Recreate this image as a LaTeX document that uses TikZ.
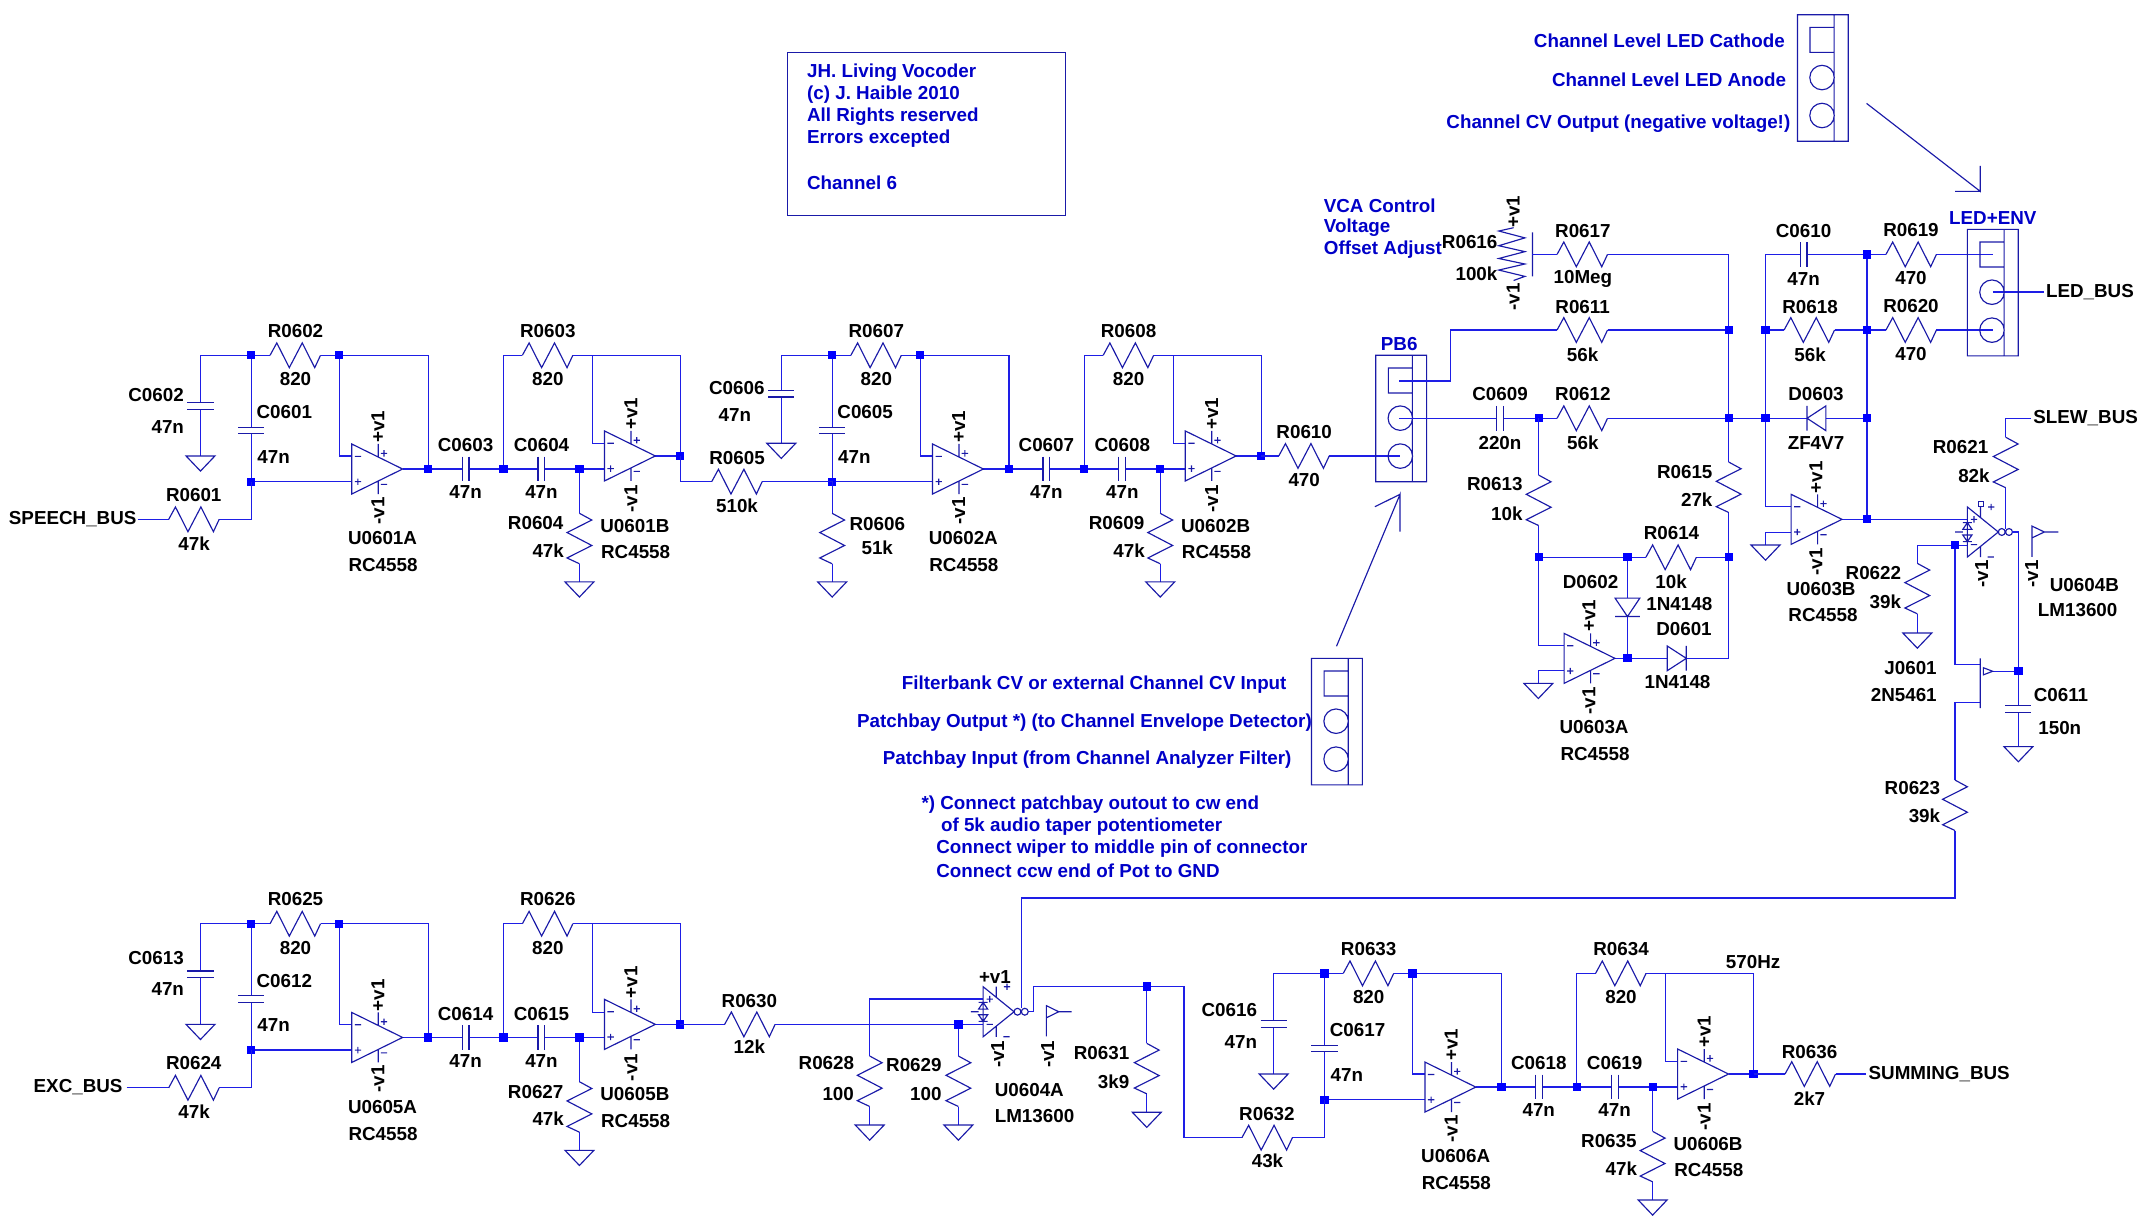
\documentclass[tikz,border=0pt]{standalone}
\usepackage{fontspec}
\setmainfont{Liberation Sans}
\definecolor{wirec}{HTML}{1E1EE6}
\definecolor{compc}{HTML}{1A1AA8}
\definecolor{txtb}{HTML}{0000C8}
\newcounter{lab}
\tikzset{
  wire/.style={draw=wirec,line width=0.46pt,line cap=butt,line join=miter},
  comp/.style={draw=compc,line width=0.42pt,line join=miter},
  junc/.style={fill=blue,draw=none},
  lbl/.style={inner sep=0pt,outer sep=0pt,font=\bfseries\fontsize{6.84}{8}\selectfont,text=black},
  note/.style={lbl,text=txtb,yshift=-0.4pt},
}
\newcommand{\T}[3]{\stepcounter{lab}\node[lbl] (t\arabic{lab}) at (#1,#2) {#3};}
\newcommand{\TL}[3]{\stepcounter{lab}\node[lbl,anchor=west] (t\arabic{lab}) at (#1,#2) {#3};}
\newcommand{\TR}[3]{\stepcounter{lab}\node[lbl,anchor=east] (t\arabic{lab}) at (#1,#2) {#3};}
\newcommand{\TV}[3]{\stepcounter{lab}\node[lbl,rotate=90] (t\arabic{lab}) at (#1,#2) {#3};}
\newcommand{\NL}[3]{\stepcounter{lab}\node[note,anchor=west] (t\arabic{lab}) at (#1,#2) {#3};}
\newcommand{\NC}[3]{\stepcounter{lab}\node[note] (t\arabic{lab}) at (#1,#2) {#3};}
\newcommand{\NR}[3]{\stepcounter{lab}\node[note,anchor=east] (t\arabic{lab}) at (#1,#2) {#3};}
\newcommand{\J}[2]{\fill[junc,shift={(#1,#2)}] (-3,-3) rectangle (3,3);}
\newcommand{\resh}[2]{\draw[comp,shift={(#1,#2)}] (0,0)--(4.9,-9)--(14,9)--(23.4,-9)--(32.5,9)--(36.7,0);}
\newcommand{\resv}[2]{\draw[comp,shift={(#1,#2)}] (0,0)--(9,4.9)--(-9,14)--(9,23.4)--(-9,32.5)--(0,36.7);}
\newcommand{\caph}[2]{\draw[comp,shift={(#1,#2)}] (-2.5,-9)--(-2.5,9) (2.5,-9)--(2.5,9);}
\newcommand{\capv}[2]{\draw[comp,shift={(#1,#2)}] (-9.5,0)--(9.5,0) (-9.5,4.8)--(9.5,4.8);}
\newcommand{\gnd}[2]{\draw[comp,shift={(#1,#2)}] (-10.5,0)--(10.5,0)--(0,11)--cycle;}
\newcommand{\opamp}[2]{\draw[comp,shift={(#1,#2)}] (0,-18.2)--(0,18.2)--(37,0)--cycle
  (19.3,-9)--(19.3,-18.2) (19.3,9)--(19.3,18.2)
  (2.2,-9.2)--(6.8,-9.2) (2.2,9.2)--(6.8,9.2) (4.5,6.9)--(4.5,11.5)
  (21.2,-11.4)--(25.8,-11.4) (23.5,-13.7)--(23.5,-9.1) (21.2,11.2)--(25.8,11.2);}
\newcommand{\ota}[2]{\draw[comp,shift={(#1,#2)}] (0,-18.2)--(0,18.2)--(22.5,0)--cycle
  (9.5,-10.5)--(9.5,-18.2) (9.5,10.5)--(9.5,18.2)
  (2.5,-9.2)--(7.1,-9.2) (4.8,-11.5)--(4.8,-6.9) (2.5,9.2)--(7.1,9.2)
  (15,-18.2)--(19.6,-18.2) (17.3,-20.5)--(17.3,-15.9) (14.7,18.2)--(19.3,18.2)
  (-3.3,-1.9)--(3.3,-1.9)--(0,-6.8)--cycle (-3.3,-6.8)--(3.3,-6.8)
  (-3.3,2.2)--(3.3,2.2)--(0,7)--cycle (-3.3,7)--(3.3,7)
  (-9,0)--(-3.2,0)
  (25,0) circle (2.5) (30.3,0) circle (2.5);}
\newcommand{\conn}[2]{\draw[comp,shift={(#1,#2)}] (0,0) rectangle (37,92)
  (26.7,0)--(26.7,92) (9.2,9.2) rectangle (26.7,27.4)
  (17.9,45.7) circle (8.9) (17.9,73.3) circle (8.9);}
\newcommand{\ua}{}\newcommand{\ub}{}
% left capacitor of a section: plate y, ground y, label y, value x, value y
\newcommand{\lca}{292.8}\newcommand{\lcg}{331.6}\newcommand{\lct}{287.3}\newcommand{\lcnx}{122}\newcommand{\lcny}{310.3}
% one two-stage filter section, drawn at its offset
\newcommand{\filt}[9]{\begin{scope}[shift={(#1,#2)}]
  \draw[wire] (145.8,\lcg)--(145.8,\lca+4.8) (145.8,\lca)--(145.8,258.4)--(196.4,258.4)
    (233.1,258.4)--(311.4,258.4)--(311.4,341.1)
    (292.8,341.1)--(336.1,341.1) (341.1,341.1)--(391.3,341.1) (396.3,341.1)--(439.6,341.1)
    (246.8,258.4)--(246.8,331.6)--(255.8,331.6)
    (182.8,258.4)--(182.8,310.7) (182.8,315.5)--(182.8,350.3)--(255.8,350.3)
    (366.2,341.1)--(366.2,258.4)--(379.9,258.4)
    (416.6,258.4)--(494.8,258.4)--(494.8,331.6)--(476.6,331.6)
    (430.8,258.4)--(430.8,322.7)--(439.6,322.7)
    (421.4,341.1)--(421.4,373.3) (421.4,410)--(421.4,423.2);
  \capv{145.8}{\lca}\capv{182.8}{310.7}\caph{338.6}{341.1}\caph{393.8}{341.1}
  \gnd{145.8}{\lcg}\gnd{421.4}{423.2}
  \resh{196.4}{258.4}\resh{379.9}{258.4}\resv{421.4}{373.3}
  \opamp{255.8}{341.1}\opamp{439.6}{331.6}
  \J{182.8}{258.4}\J{246.8}{258.4}\J{182.8}{350.3}\J{311.4}{341.1}\J{366.2}{341.1}\J{421.4}{341.1}\J{494.8}{331.6}
  \T{214.9}{240.7}{#3}\T{214.9}{275.9}{820}
  \T{113.5}{\lct}{#4}\T{\lcnx}{\lcny}{47n}
  \T{206.8}{299.9}{#5}\T{199}{332.1}{47n}
  \T{398.4}{240.7}{#6}\T{398.4}{275.9}{820}
  \T{338.6}{323.9}{#7}\T{338.6}{358}{47n}
  \T{393.8}{323.9}{#8}\T{393.8}{358}{47n}
  \T{389.6}{380.6}{#9}\T{398.7}{400.5}{47k}
  \T{278.2}{391.5}{\ua}\T{278.6}{411.2}{RC4558}
  \T{461.7}{382.5}{\ub}\T{462.3}{401.7}{RC4558}
  \TV{274.8}{310.3}{+v1}\TV{274.8}{371.4}{-v1}
  \TV{458.8}{301}{+v1}\TV{458.8}{362.9}{-v1}
\end{scope}}
\begin{document}
\begin{tikzpicture}[x=0.5pt,y=-0.5pt]
\useasboundingbox (0,0) rectangle (1568,889.3);
% filter sections
\renewcommand{\ua}{U0601A}\renewcommand{\ub}{U0601B}
\filt{0}{0}{R0602}{C0602}{C0601}{R0603}{C0603}{C0604}{R0604}
\renewcommand{\ua}{U0602A}\renewcommand{\ub}{U0602B}
\renewcommand{\lca}{283.9}\renewcommand{\lcg}{322.4}\renewcommand{\lct}{281.9}\renewcommand{\lcnx}{112}\renewcommand{\lcny}{301.8}
\filt{422.4}{0}{R0607}{C0606}{C0605}{R0608}{C0607}{C0608}{R0609}
\renewcommand{\ua}{U0605A}\renewcommand{\ub}{U0605B}
\renewcommand{\lca}{292.8}\renewcommand{\lcg}{331.6}\renewcommand{\lct}{283.3}\renewcommand{\lcnx}{122}\renewcommand{\lcny}{306}
\filt{0}{413.4}{R0625}{C0613}{C0612}{R0626}{C0614}{C0615}{R0627}
\renewcommand{\ua}{U0606A}\renewcommand{\ub}{U0606B}
\renewcommand{\lct}{285.3}\renewcommand{\lcny}{308}
\filt{780.5}{449.5}{R0633}{C0616}{C0617}{R0634}{C0618}{C0619}{R0635}
% inputs
\draw[wire] (100,377.7)--(122.7,377.7) (159.4,377.7)--(182.8,377.7)--(182.8,350.3);
\resh{122.7}{377.7}
\TL{6.5}{377.7}{SPEECH\_BUS}\T{140.9}{360}{R0601}\T{141.2}{395.2}{47k}
\draw[wire] (92,791.1)--(122.7,791.1) (159.4,791.1)--(182.8,791.1)--(182.8,763.7);
\resh{122.7}{791.1}
\TL{24.5}{790.4}{EXC\_BUS}\T{140.9}{773.4}{R0624}\T{141.2}{808.6}{47k}
% R0605 R0606
\draw[wire] (494.8,331.6)--(494.8,350.3)--(517.6,350.3) (554.3,350.3)--(605.2,350.3)--(605.2,373.3) (605.2,410)--(605.2,423.2);
\resh{517.6}{350.3}\resv{605.2}{373.3}\gnd{605.2}{423.2}
\T{536}{333.3}{R0605}\T{536}{367.5}{510k}\T{638}{381}{R0606}\T{638}{398.5}{51k}
% R0610, PB6
\draw[wire] (917.2,331.6)--(930,331.6) (966.7,331.6)--(1018,331.6);
\resh{930}{331.6}\T{948.5}{314}{R0610}\T{948.5}{349}{470}
\conn{1000.5}{258.4}\NC{1017.6}{249.7}{PB6}
\draw[wire] (1017.8,277)--(1055,277)--(1055,240)--(1132.4,240) (1169.1,240)--(1257.2,240);
\resh{1132.4}{240}
\draw[wire] (1017.8,304.2)--(1088.4,304.2) (1093.4,304.2)--(1132.4,304.2) (1169.1,304.2)--(1314.2,304.2);
\caph{1090.9}{304.2}\resh{1132.4}{304.2}\J{1119}{304.2}
\T{1151}{223}{R0611}\T{1151}{258}{56k}\T{1090.9}{286.8}{C0609}\T{1090.9}{322}{220n}\T{1151.2}{286.8}{R0612}\T{1151.2}{322}{56k}
% R0616 R0617
\draw[comp] (1100.8,165.6)--(1090,168)--(1109,173)--(1090,178.7)--(1109,183)--(1090,188)--(1109,192)--(1090,196.4)--(1109,201)--(1100.8,204)
  (1114.5,169)--(1114.5,201);
\draw[wire] (1114.5,185)--(1132.4,185) (1169.1,185)--(1257.2,185)--(1257.2,336) (1257.2,372.7)--(1257.2,478.8)--(1226.4,478.8);
\resh{1132.4}{185}\resv{1257.2}{336}
\TR{1089}{175.8}{R0616}\TR{1089}{198.8}{100k}\TV{1100.5}{154}{+v1}\TV{1100.5}{215.8}{-v1}
\T{1151.2}{167.8}{R0617}\T{1151.2}{202.9}{10Meg}
\NL{962.8}{148.6}{VCA Control}\NL{962.8}{164.6}{Voltage}\NL{962.8}{180.6}{Offset Adjust}
\TR{1245.4}{343.5}{R0615}\TR{1245.4}{363.6}{27k}
% R0613 R0614 U0603A
\draw[wire] (1119,304.2)--(1119,345.5) (1119,382.2)--(1119,469.6)--(1137.5,469.6)
  (1119,405.3)--(1197,405.3) (1233.7,405.3)--(1257.2,405.3)
  (1183.6,405.3)--(1183.6,435) (1183.6,448.4)--(1183.6,478.8)
  (1137.5,487.8)--(1118.8,487.8)--(1118.8,497)
  (1173.8,478.8)--(1212.5,478.8);
\resv{1119}{345.5}\resh{1197}{405.3}
\opamp{1137.5}{478.8}\gnd{1118.8}{497}
\draw[comp] (1174.6,435)--(1192.6,435)--(1183.6,448.4)--cycle (1174.6,448.4)--(1192.6,448.4);
\draw[comp] (1212.5,469.8)--(1212.5,487.8)--(1226.4,478.8)--cycle (1226.4,469.8)--(1226.4,487.8);
\J{1119}{405.3}\J{1183.6}{405.3}\J{1257.2}{405.3}\J{1183.6}{478.8}\J{1257.2}{240}\J{1257.2}{304.2}
\TR{1107.3}{352.3}{R0613}\TR{1107.3}{373.3}{10k}
\T{1215.6}{387.9}{R0614}\T{1215.3}{423}{10k}\T{1156.8}{423}{D0602}\T{1221.3}{439.3}{1N4148}
\T{1224.7}{457.7}{D0601}\T{1220}{496}{1N4148}
\TV{1155.5}{448}{+v1}\TV{1155.5}{509.6}{-v1}\T{1159.3}{529}{U0603A}\T{1160}{548.6}{RC4558}
% envelope section
\draw[wire] (1284,185)--(1284,368.5)--(1302.6,368.5) (1284,396.4)--(1284,387)--(1302.6,387)
  (1284,185)--(1309.2,185) (1314.2,185)--(1371.6,185) (1408.3,185)--(1449.3,185)
  (1284,240)--(1297.5,240) (1334.2,240)--(1371.6,240) (1408.3,240)--(1449.3,240)
  (1327.9,304.2)--(1357.8,304.2)
  (1357.8,185)--(1357.8,377.7)
  (1339.6,377.7)--(1430.8,377.7)
  (1449.3,212.4)--(1486.6,212.4);
\caph{1311.7}{185}\resh{1297.5}{240}\resh{1371.6}{185}\resh{1371.6}{240}
\draw[comp] (1314.2,295.2)--(1314.2,313.2) (1327.9,295.2)--(1327.9,313.2)--(1314.2,304.2)--cycle;
\opamp{1302.6}{377.7}\gnd{1284}{396.4}
\conn{1430.8}{166.8}
\J{1284}{240}\J{1284}{304.2}\J{1357.8}{185}\J{1357.8}{240}\J{1357.8}{304.2}\J{1357.8}{377.7}
\T{1311.7}{167.8}{C0610}\T{1311.7}{202.9}{47n}\T{1316.4}{223}{R0618}\T{1316.4}{258}{56k}
\T{1320.7}{286.8}{D0603}\T{1320.7}{322}{ZF4V7}
\T{1389.8}{167.3}{R0619}\T{1389.8}{202.4}{470}\T{1389.8}{222.6}{R0620}\T{1389.8}{257.7}{470}
\NC{1449.3}{157.6}{LED+ENV}\TL{1488}{212.4}{LED\_BUS}
\TV{1320.7}{347.1}{+v1}\TV{1320.7}{408.5}{-v1}\T{1324.4}{428.4}{U0603B}\T{1325.8}{447.3}{RC4558}
% LM13600 B
\ota{1430.8}{386.9}
\draw[comp] (1438.6,364.8) rectangle (1442.4,368.6);
\draw[wire] (1458.7,384.4)--(1458.7,355) (1458.7,318)--(1458.7,304.2)--(1477,304.2)
  (1463.6,386.9)--(1467.9,386.9)--(1467.9,513.2) (1467.9,518)--(1467.9,543)
  (1449.2,488.2)--(1467.9,488.2)
  (1430.8,396.5)--(1394.4,396.5)--(1394.4,409.7) (1394.4,446.4)--(1394.4,460.4)
  (1421.8,396.5)--(1421.8,483)--(1440.2,483)
  (1440.2,511)--(1421.8,511)--(1421.8,567.3) (1421.8,604)--(1421.8,653)--(742.7,653)--(742.7,733.3);
\resv{1458.7}{318}\resv{1394.4}{409.7}\resv{1421.8}{567.3}
\capv{1467.9}{513.2}\gnd{1467.9}{543}\gnd{1394.4}{460.4}
\draw[comp] (1440.2,478.8)--(1440.2,515) (1442.4,485.6)--(1442.4,490.8)--(1449.2,488.2)--cycle;
\draw[comp] (1477.8,405)--(1477.8,382.6)--(1486.8,386.9)--(1477.8,391.2) (1486.8,386.9)--(1497,386.9);
\J{1421.8}{396.5}\J{1467.9}{488.2}
\TL{1478.8}{304.2}{SLEW\_BUS}\TR{1446}{325.3}{R0621}\TR{1447}{345.7}{82k}
\TR{1382.6}{417}{R0622}\TR{1382.6}{437.6}{39k}
\TR{1408.5}{486}{J0601}\TR{1408.5}{505.5}{2N5461}
\T{1498.9}{505.5}{C0611}\T{1498}{529.6}{150n}
\TV{1441.2}{417.5}{-v1}\TV{1477.6}{417.5}{-v1}
\T{1515.9}{425.5}{U0604B}\T{1511}{444}{LM13600}
\TR{1411}{573}{R0623}\TR{1411}{593}{39k}
% LM13600 A
\draw[wire] (494.8,745)--(527,745) (563.7,745)--(715,745)
  (697,745)--(697,768) (697,804.8)--(697,818.2)
  (715,726.5)--(632.5,726.5)--(632.5,768) (632.5,804.8)--(632.5,818.2)
  (747.7,735.8)--(751.8,735.8)--(751.8,717.5)--(861.1,717.5)--(861.1,827.4)--(903.2,827.4)
  (939.9,827.4)--(963.3,827.4)--(963.3,799.8)
  (834,717.5)--(834,758.8) (834,795.4)--(834,808.9);
\resh{527}{745}\resv{697}{768}\resv{632.5}{768}\resv{834}{758.8}\resh{903.2}{827.4}
\gnd{697}{818.2}\gnd{632.5}{818.2}\gnd{834}{808.9}
\ota{715}{735.8}
\draw[comp] (761,753.7)--(761,731.4)--(770,735.8)--(761,740.2) (770,735.8)--(779.4,735.8);
\J{697}{745}\J{834}{717.5}
\T{545}{728}{R0630}\T{545}{761}{12k}
\T{601}{773}{R0628}\TR{621}{795.6}{100}\TR{684.8}{774.8}{R0629}\TR{684.8}{795.6}{100}
\TR{821.3}{766}{R0631}\TR{821.3}{786.7}{3k9}
\T{723.6}{710.3}{+v1}\TV{725.6}{766.8}{-v1}\TV{762}{766.8}{-v1}
\TL{723.5}{793}{U0604A}\TL{723.5}{812}{LM13600}
\T{921.4}{810}{R0632}\T{921.8}{844}{43k}
% output
\draw[wire] (1275.3,781.1)--(1298.2,781.1) (1334.9,781.1)--(1357,781.1);
\resh{1298.2}{781.1}
\T{1275}{699.9}{570Hz}\T{1316}{764.9}{R0636}\T{1316}{798.7}{2k7}\TL{1359}{781.1}{SUMMING\_BUS}
% title box
\draw[comp] (573,38) rectangle (775,157);
\NL{587}{52}{JH. Living Vocoder}\NL{587}{68}{(c) J. Haible 2010}\NL{587}{84}{All Rights reserved}\NL{587}{100}{Errors excepted}\NL{587}{132}{Channel 6}
% top right connector
\conn{1307.2}{10.7}
\NR{1298}{29}{Channel Level LED Cathode}\NR{1299}{57}{Channel Level LED Anode}\NR{1302}{89}{Channel CV Output (negative voltage!)}
\draw[comp] (1357.5,75.2)--(1440.2,139.2)--(1440.2,120.7) (1440.2,139.2)--(1421.8,139.2);
% lower connector
\conn{953.8}{478.8}
\draw[comp] (972,470)--(1018.2,359.5)--(1018.2,386.6) (1018.2,359.5)--(999.9,368.5);
\NL{655.9}{497}{Filterbank CV or external Channel CV Input}
\NL{623.4}{524.4}{Patchbay Output *) (to Channel Envelope Detector)}
\NL{642}{552}{Patchbay Input (from Channel Analyzer Filter)}
\NL{670.2}{584.7}{*) Connect patchbay outout to cw end}
\NL{684.4}{600.5}{of 5k audio taper potentiometer}
\NL{681}{616.7}{Connect wiper to middle pin of connector}
\NL{681}{632.8}{Connect ccw end of Pot to GND}
\end{tikzpicture}
\end{document}
